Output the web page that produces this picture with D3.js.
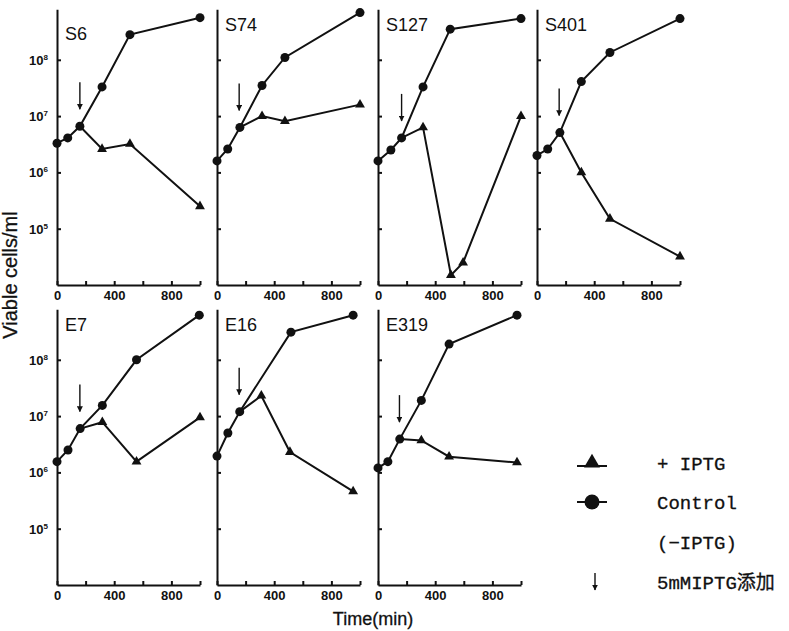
<!DOCTYPE html>
<html>
<head>
<meta charset="utf-8">
<script src="https://cdn.jsdelivr.net/npm/d3@7"></script>
<style>
  body { margin: 0; background: #fff; }
  svg { display: block; }
</style>
</head>
<body>
<script>
// Viable cells/ml vs time, control (circles) and +IPTG (triangles)
const panelNames = ["S6", "S74", "S127", "S401", "E7", "E16", "E319"];

const s6Control = [[0, 3.3e6], [75, 4.1e6], [160, 6.6e6], [315, 3.3e7], [510, 2.8e8], [1000, 5.6e8]];
const s6Iptg = [[160, 6.6e6], [315, 2.6e6], [510, 3.2e6], [1000, 2.5e5]];

const s74Control = [[0, 1.6e6], [75, 2.6e6], [160, 6.3e6], [315, 3.5e7], [475, 1.1e8], [1000, 6.9e8]];
const s74Iptg = [[160, 6.3e6], [315, 1.0e7], [475, 8.1e6], [1000, 1.6e7]];

const s127Control = [[0, 1.6e6], [90, 2.5e6], [165, 4.1e6], [315, 3.3e7], [505, 3.5e8], [1000, 5.4e8]];
const s127Iptg = [[165, 4.1e6], [315, 6.3e6], [510, 1.5e4], [595, 2.5e4], [1000, 1.0e7]];

const s401Control = [[0, 2.0e6], [75, 2.6e6], [160, 5.1e6], [310, 4.1e7], [510, 1.35e8], [1000, 5.4e8]];
const s401Iptg = [[160, 5.1e6], [310, 1.0e6], [510, 1.5e5], [1000, 3.2e4]];

const e7Control = [[0, 1.55e6], [77, 2.5e6], [162, 6.0e6], [317, 1.55e7], [556, 1.0e8], [995, 6.2e8]];
const e7Iptg = [[162, 6.0e6], [317, 7.8e6], [556, 1.55e6], [1000, 9.5e6]];

const e16Control = [[0, 1.95e6], [76, 5.0e6], [159, 1.2e7], [517, 3.1e8], [952, 6.2e8]];
const e16Iptg = [[159, 1.2e7], [310, 2.3e7], [510, 2.3e6], [952, 4.6e5]];

const e319Control = [[0, 1.2e6], [69, 1.55e6], [152, 3.9e6], [303, 1.9e7], [497, 1.9e8], [972, 6.2e8]];
const e319Iptg = [[152, 3.9e6], [303, 3.7e6], [497, 1.9e6], [972, 1.5e6]];

const controlSeries = [s6Control, s74Control, s127Control, s401Control, e7Control, e16Control, e319Control];
const iptgSeries = [s6Iptg, s74Iptg, s127Iptg, s401Iptg, e7Iptg, e16Iptg, e319Iptg];
const arrowTimes = [160, 155, 165, 155, 160, 155, 150];

const xTicks = [0, 200, 400, 600, 800, 1000];
const xTickLabels = [0, 400, 800];
const yTicks = [1e5, 1e6, 1e7, 1e8];
const yTickExponents = ["5", "6", "7", "8"];

const legendLabels = ["+ IPTG", "Control", "(\u2212IPTG)", "5mMIPTG添加"];

const width = 789;
const height = 631;
const colLeft = [57, 217, 378, 537];
const rowBottom = [285, 585];
const plotWidth = 143;
const decade = 56.3;
const yMax = Math.pow(10, 8.9);
const ink = "#111";
const sans = "'Liberation Sans', Arial, sans-serif";
const mono = "'Liberation Mono', 'Noto Sans CJK JP', monospace";

const svg = d3
  .select("body")
  .append("svg")
  .attr("width", width)
  .attr("height", height)
  .style("background", "#fff");

// arrowhead for the IPTG addition marks
svg
  .append("defs")
  .append("marker")
  .attr("id", "arrowHead")
  .attr("viewBox", "0 0 10 10")
  .attr("refX", 9)
  .attr("refY", 5)
  .attr("markerWidth", 6)
  .attr("markerHeight", 6)
  .attr("markerUnits", "userSpaceOnUse")
  .attr("orient", "auto")
  .append("path")
  .attr("d", "M0,0 L10,5 L0,10 Z")
  .attr("fill", ink);

panelNames.forEach((name, i) => {
  const row = i < 4 ? 0 : 1;
  const col = i < 4 ? i : i - 4;
  const x0 = colLeft[col];
  const yb = rowBottom[row];

  const xScale = d3.scaleLinear().domain([0, 1000]).range([x0, x0 + plotWidth]);
  const yScale = d3
    .scaleLog()
    .domain([1e4, yMax])
    .range([yb, yb - decade * Math.log10(yMax / 1e4)]);

  const g = svg.append("g");

  // y axis (ticks point inward)
  const yAxis = d3.axisLeft(yScale).tickValues(yTicks).tickSizeInner(-4).tickSizeOuter(0).tickFormat("");
  g.append("g").attr("transform", `translate(${x0}, 0)`).call(yAxis);

  // x axis
  const xAxis = d3
    .axisBottom(xScale)
    .tickValues(xTicks)
    .tickSizeInner(-4)
    .tickSizeOuter(0)
    .tickPadding(6)
    .tickFormat((d) => (xTickLabels.includes(d) ? d : ""));
  g.append("g").attr("transform", `translate(0, ${yb})`).call(xAxis);

  g.selectAll(".domain, .tick line").attr("stroke", ink).attr("stroke-width", 2);
  g.selectAll(".tick text")
    .attr("font-family", sans)
    .attr("font-size", "13px")
    .attr("font-weight", "bold")
    .attr("fill", ink);

  // y tick labels only on the first column
  if (col === 0) {
    yTicks.forEach((v, k) => {
      const t = g
        .append("text")
        .attr("x", x0 - 9)
        .attr("y", yScale(v) + 5)
        .attr("text-anchor", "end")
        .attr("font-family", sans)
        .attr("font-size", "13px")
        .attr("font-weight", "bold")
        .attr("fill", ink);
      t.append("tspan").text("10");
      t.append("tspan").attr("dy", -5).attr("font-size", "8px").text(yTickExponents[k]);
    });
  }

  // panel name
  g.append("text")
    .attr("x", x0 + 8)
    .attr("y", yScale(yMax) + (row === 0 && col === 0 ? 31 : 22))
    .attr("font-family", sans)
    .attr("font-size", "18px")
    .attr("fill", ink)
    .text(name);

  const line = d3
    .line()
    .x((d) => xScale(d[0]))
    .y((d) => yScale(d[1]));

  // +IPTG line and triangles
  g.append("path")
    .attr("d", line(iptgSeries[i]))
    .attr("fill", "none")
    .attr("stroke", ink)
    .attr("stroke-width", 2);
  g.selectAll(".tri")
    .data(iptgSeries[i].slice(1))
    .join("path")
    .attr("d", d3.symbol(d3.symbolTriangle).size(42))
    .attr("transform", (d) => `translate(${xScale(d[0])}, ${yScale(d[1])})`)
    .attr("fill", ink);

  // control line and circles
  g.append("path")
    .attr("d", line(controlSeries[i]))
    .attr("fill", "none")
    .attr("stroke", ink)
    .attr("stroke-width", 2);
  g.selectAll(".dot")
    .data(controlSeries[i])
    .join("circle")
    .attr("cx", (d) => xScale(d[0]))
    .attr("cy", (d) => yScale(d[1]))
    .attr("r", 4.5)
    .attr("fill", ink);

  // IPTG addition arrow above the third control point
  const tipY = yScale(controlSeries[i][2][1]) - 17;
  g.append("line")
    .attr("x1", xScale(arrowTimes[i]))
    .attr("x2", xScale(arrowTimes[i]))
    .attr("y1", tipY - 27)
    .attr("y2", tipY)
    .attr("stroke", ink)
    .attr("stroke-width", 1.4)
    .attr("marker-end", "url(#arrowHead)");
});

// y axis label
svg
  .append("text")
  .attr("transform", `translate(17, 275) rotate(-90)`)
  .attr("text-anchor", "middle")
  .attr("font-family", sans)
  .attr("font-size", "20px")
  .attr("fill", ink)
  .attr("stroke", ink)
  .attr("stroke-width", 0.3)
  .text("Viable cells/ml");

// x axis label
svg
  .append("text")
  .attr("x", 373)
  .attr("y", 625)
  .attr("text-anchor", "middle")
  .attr("font-family", sans)
  .attr("font-size", "18px")
  .attr("fill", ink)
  .attr("stroke", ink)
  .attr("stroke-width", 0.3)
  .text("Time(min)");

// Legend
const legendY = [463, 502, 542, 582];
const legendX = 657;

svg
  .append("line")
  .attr("x1", 577)
  .attr("x2", 607)
  .attr("y1", legendY[0] + 3)
  .attr("y2", legendY[0] + 3)
  .attr("stroke", ink)
  .attr("stroke-width", 2);
svg
  .append("path")
  .attr("d", d3.symbol(d3.symbolTriangle).size(110))
  .attr("transform", `translate(592, ${legendY[0]})`)
  .attr("fill", ink);

svg
  .append("line")
  .attr("x1", 577)
  .attr("x2", 607)
  .attr("y1", legendY[1])
  .attr("y2", legendY[1])
  .attr("stroke", ink)
  .attr("stroke-width", 2);
svg
  .append("circle")
  .attr("cx", 592)
  .attr("cy", legendY[1])
  .attr("r", 7.5)
  .attr("fill", ink);

svg
  .append("line")
  .attr("x1", 595)
  .attr("x2", 595)
  .attr("y1", legendY[3] - 9)
  .attr("y2", legendY[3] + 8)
  .attr("stroke", ink)
  .attr("stroke-width", 1.4)
  .attr("marker-end", "url(#arrowHead)");

svg
  .selectAll(".legendText")
  .data(legendLabels)
  .join("text")
  .attr("x", legendX)
  .attr("y", (d, k) => legendY[k] + 7)
  .attr("font-family", mono)
  .attr("font-size", "19px")
  .attr("fill", ink)
  .attr("stroke", ink)
  .attr("stroke-width", 0.3)
  .text((d) => d);
</script>
</body>
</html>
